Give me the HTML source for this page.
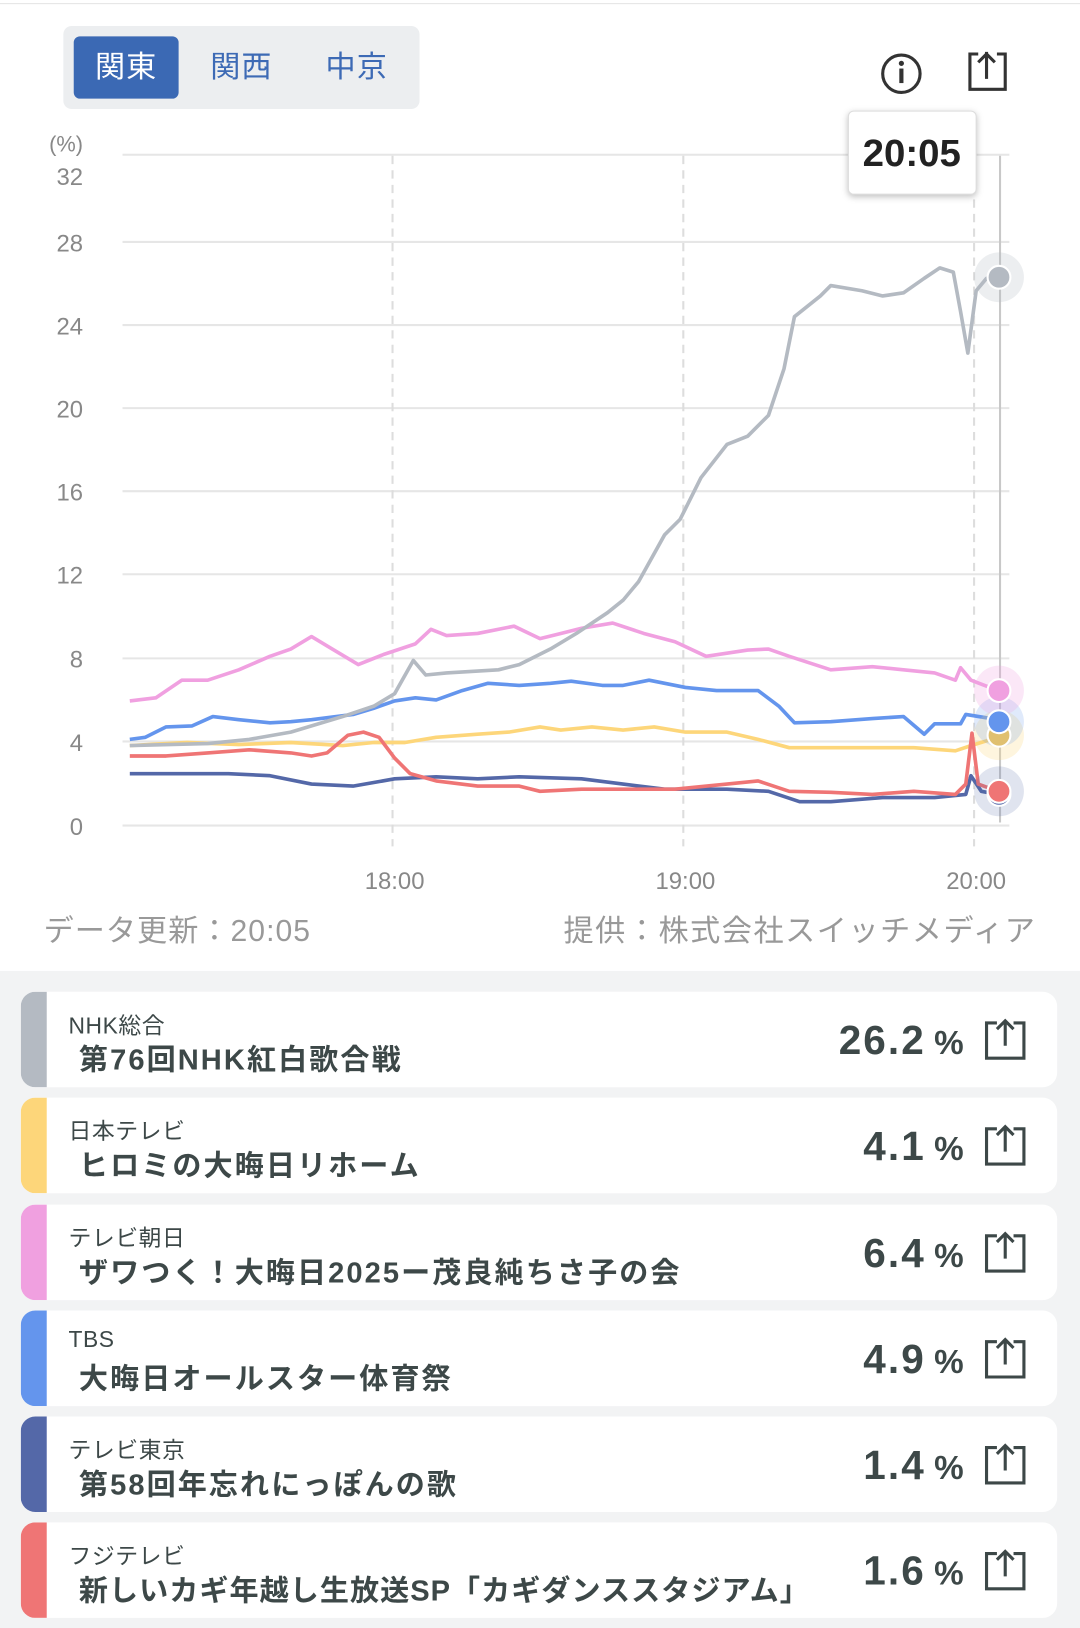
<!DOCTYPE html>
<html><head><meta charset="utf-8"><style>
html,body{margin:0;padding:0;background:#fff;width:1080px;height:1628px;overflow:hidden}
#w{position:absolute;left:0;top:0;width:1040px;height:1568px;transform:scale(1.03846);transform-origin:0 0;font-family:"Liberation Sans","Noto Sans CJK JP",sans-serif}
.tabs{position:absolute;left:61px;top:25px;width:343px;height:80px;background:#eceef0;border-radius:8px}
.tab{position:absolute;top:10px;height:60px;width:101px;line-height:60px;text-align:center;font-size:29px;color:#3d6ab5;letter-spacing:1px}
.act{background:#3b69b4;color:#fff;border-radius:6px}
.bot{position:absolute;left:0;top:935px;width:1040px;height:633px;background:#f2f3f4}
.card{position:absolute;left:20px;width:998px;height:92px;background:#fff;border-radius:14px;overflow:hidden}
.bar{position:absolute;left:0;top:0;width:25px;height:100%}
.ch{position:absolute;left:46px;top:15px;font-size:22px;color:#3d4848;letter-spacing:.5px}
.tt{position:absolute;left:56px;top:44px;font-size:28px;font-weight:bold;color:#3d4848;letter-spacing:2px}
.pc{position:absolute;right:90px;top:26px;font-size:39px;font-weight:bold;color:#3d4848;letter-spacing:2px}
.pc span{font-size:32px;margin-left:8px;letter-spacing:0}
.sh{position:absolute;right:28px;top:24px}
</style></head><body><div id="w">
<div style="position:absolute;left:0;top:3px;width:1040px;height:1px;background:#e4e4e4"></div>
<div class="tabs"><div class="tab act" style="left:10px">関東</div><div class="tab" style="left:121px">関西</div><div class="tab" style="left:232px">中京</div></div>
<svg style="position:absolute;left:0;top:0" width="1040" height="935">
<g fill="none" stroke="#333" stroke-width="3">
<circle cx="868" cy="71" r="18"/>
<path d="M942 52h-8v34h34v-34h-8M950 76v-26M942 60l8-8 8 8"/>
</g>
<circle cx="868" cy="61" r="2.5" fill="#333"/><rect x="866" y="66" width="4" height="14" fill="#333"/>
<g stroke="#e6e6e6" stroke-width="2">
<line x1="118" x2="972" y1="149" y2="149"/><line x1="118" x2="972" y1="233" y2="233"/><line x1="118" x2="972" y1="313" y2="313"/><line x1="118" x2="972" y1="393" y2="393"/><line x1="118" x2="972" y1="473" y2="473"/><line x1="118" x2="972" y1="553" y2="553"/><line x1="118" x2="972" y1="634" y2="634"/><line x1="118" x2="972" y1="714" y2="714"/><line x1="118" x2="972" y1="795" y2="795"/>
</g>
<g stroke="#ddd" stroke-width="2" stroke-dasharray="8,6"><line x1="378" x2="378" y1="150" y2="815"/><line x1="658" x2="658" y1="150" y2="815"/><line x1="938" x2="938" y1="150" y2="815"/></g>
<line x1="963" x2="963" y1="150" y2="792" stroke="#c8c8c8" stroke-width="2"/>
<g font-size="23" fill="#888" text-anchor="end"><text x="80" y="146" font-size="21">(%)</text><text x="80" y="178">32</text><text x="80" y="242">28</text><text x="80" y="322">24</text><text x="80" y="402">20</text><text x="80" y="482">16</text><text x="80" y="562">12</text><text x="80" y="643">8</text><text x="80" y="723">4</text><text x="80" y="804">0</text></g>
<g font-size="23" fill="#888" text-anchor="middle"><text x="380" y="856">18:00</text><text x="660" y="856">19:00</text><text x="940" y="856">20:00</text></g>
<g fill="none" stroke-width="3.5" stroke-linejoin="round">
<polyline stroke="#5468a8" points="125,745 170,745 220,745 260,747 300,755 340,757 380,750 420,748 460,750 500,748 560,750 600,755 640,760 700,760 740,762 770,772 800,772 850,768 900,768 930,765 935,747 945,762 961,765"/>
<polyline stroke="#fdd67a" points="125,718 180,715 230,717 280,715 330,718 360,715 390,715 420,710 460,707 490,705 520,700 540,703 570,700 600,703 630,700 660,705 700,705 730,712 760,720 800,720 840,720 880,720 920,723 935,718 961,710"/>
<polyline stroke="#ef7575" points="125,728 160,728 200,725 240,722 280,725 300,728 315,725 335,708 350,705 365,710 380,730 395,745 420,752 460,757 500,757 520,762 560,760 600,760 650,760 700,755 730,752 760,762 800,763 840,765 880,762 920,765 930,755 936,706 942,755 961,762"/>
<polyline stroke="#6495ed" points="125,712 140,710 160,700 185,699 205,690 230,693 260,696 280,695 300,693 340,688 360,682 380,675 400,672 420,674 445,665 470,658 500,660 530,658 550,656 580,660 600,660 625,655 660,662 690,665 730,665 750,680 765,696 800,695 840,692 870,690 890,707 900,697 925,697 930,688 961,693"/>
<polyline stroke="#f0a0e0" points="125,675 150,672 175,655 200,655 230,645 260,632 280,625 300,613 320,625 345,640 370,630 400,620 415,606 430,612 460,610 495,603 520,615 540,610 560,605 590,600 620,610 650,618 680,632 720,626 740,625 760,632 800,645 840,642 870,645 900,648 920,655 925,643 935,655 961,665"/>
<polyline stroke="#b4bac2" points="125,718 200,716 240,712 280,705 330,690 360,680 380,668 398,636 410,650 430,648 480,645 500,640 530,625 555,610 585,590 600,578 615,560 640,515 655,500 675,460 700,428 720,420 740,400 755,355 765,305 790,285 800,275 830,280 850,285 870,282 890,268 905,258 918,262 925,300 932,340 940,280 950,268 961,267"/>
</g>
<g stroke="#fff" stroke-width="2">
<circle cx="962" cy="762" r="24" fill="#5468a8" fill-opacity=".18" stroke="none"/>
<circle cx="962" cy="708" r="24" fill="#fdd67a" fill-opacity=".25" stroke="none"/>
<circle cx="962" cy="695" r="24" fill="#6495ed" fill-opacity=".2" stroke="none"/>
<circle cx="962" cy="665" r="24" fill="#f0a0e0" fill-opacity=".25" stroke="none"/>
<circle cx="962" cy="267" r="24" fill="#b4bac2" fill-opacity=".25" stroke="none"/>
<circle cx="962" cy="765" r="11" fill="#5468a8"/><circle cx="962" cy="708" r="11" fill="#e0c070"/><circle cx="962" cy="762" r="11" fill="#ef7575"/><circle cx="962" cy="695" r="11" fill="#6495ed"/><circle cx="962" cy="665" r="11" fill="#f0a0e0"/><circle cx="962" cy="267" r="11" fill="#b4bac2"/>
</g>
<rect x="817" y="107" width="123" height="80" rx="5" fill="#fff" stroke="#ddd" style="filter:drop-shadow(0 2px 3px rgba(0,0,0,.25))"/>
<text x="878" y="160" font-size="37" font-weight="bold" fill="#222" text-anchor="middle">20:05</text>
<text x="42" y="906" font-size="29" fill="#999" letter-spacing="1">データ更新：20:05</text>
<text x="998" y="906" font-size="29" fill="#999" text-anchor="end" letter-spacing="1.5">提供：株式会社スイッチメディア</text>
</svg>
<div class="bot"></div>
<div class="card" style="top:955px"><div class="bar" style="background:#b4bac2"></div><div class="ch">NHK総合</div><div class="tt">第76回NHK紅白歌合戦</div><div class="pc">26.2<span>%</span></div><svg class="sh" width="44" height="44"><path d="M14 6H4v34h36V6H30M22 28V4M14 12l8-8 8 8" fill="none" stroke="#3d4848" stroke-width="3"/></svg></div>
<div class="card" style="top:1057px"><div class="bar" style="background:#fdd67a"></div><div class="ch">日本テレビ</div><div class="tt">ヒロミの大晦日リホーム</div><div class="pc">4.1<span>%</span></div><svg class="sh" width="44" height="44"><path d="M14 6H4v34h36V6H30M22 28V4M14 12l8-8 8 8" fill="none" stroke="#3d4848" stroke-width="3"/></svg></div>
<div class="card" style="top:1160px"><div class="bar" style="background:#f0a0e0"></div><div class="ch">テレビ朝日</div><div class="tt">ザワつく！大晦日2025ー茂良純ちさ子の会</div><div class="pc">6.4<span>%</span></div><svg class="sh" width="44" height="44"><path d="M14 6H4v34h36V6H30M22 28V4M14 12l8-8 8 8" fill="none" stroke="#3d4848" stroke-width="3"/></svg></div>
<div class="card" style="top:1262px"><div class="bar" style="background:#6495ed"></div><div class="ch">TBS</div><div class="tt">大晦日オールスター体育祭</div><div class="pc">4.9<span>%</span></div><svg class="sh" width="44" height="44"><path d="M14 6H4v34h36V6H30M22 28V4M14 12l8-8 8 8" fill="none" stroke="#3d4848" stroke-width="3"/></svg></div>
<div class="card" style="top:1364px"><div class="bar" style="background:#5468a8"></div><div class="ch">テレビ東京</div><div class="tt">第58回年忘れにっぽんの歌</div><div class="pc">1.4<span>%</span></div><svg class="sh" width="44" height="44"><path d="M14 6H4v34h36V6H30M22 28V4M14 12l8-8 8 8" fill="none" stroke="#3d4848" stroke-width="3"/></svg></div>
<div class="card" style="top:1466px"><div class="bar" style="background:#ef7575"></div><div class="ch">フジテレビ</div><div class="tt" style="letter-spacing:1px">新しいカギ年越し生放送SP「カギダンススタジアム」</div><div class="pc">1.6<span>%</span></div><svg class="sh" width="44" height="44"><path d="M14 6H4v34h36V6H30M22 28V4M14 12l8-8 8 8" fill="none" stroke="#3d4848" stroke-width="3"/></svg></div>
</div></body></html>
